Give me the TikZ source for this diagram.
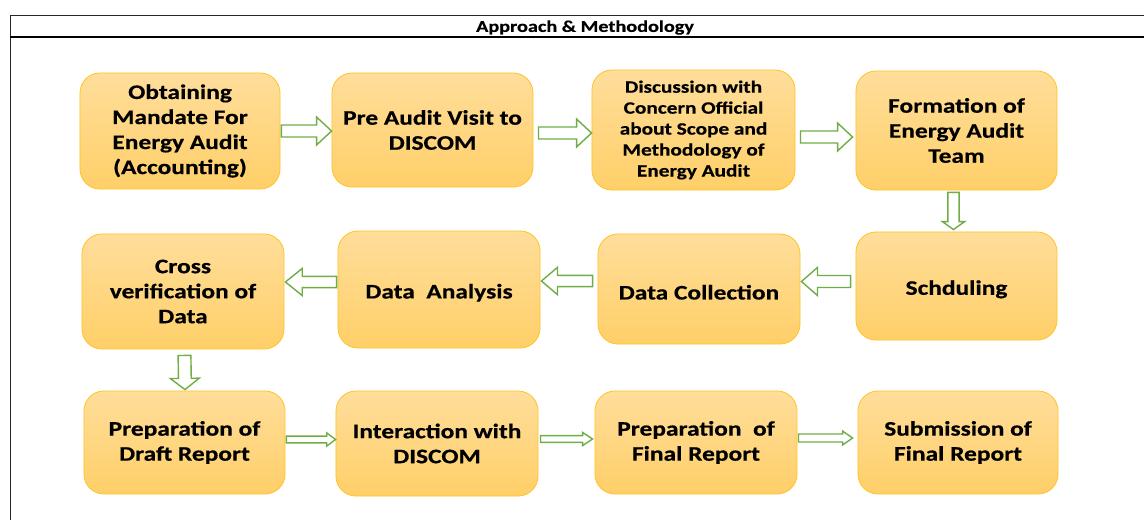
\documentclass[tikz,border=0pt]{standalone}
\usepackage{fontspec}
\setmainfont{Carlito}[FakeStretch=1.23, BoldFeatures={FakeBold=0.5}]
\usetikzlibrary{calc}

\definecolor{boxtop}{RGB}{255,222,155}
\definecolor{boxbottom}{RGB}{255,207,104}
\definecolor{boxline}{RGB}{255,196,40}
\definecolor{arrowgreen}{RGB}{112,173,71}

\tikzset{
  stepbox/.style={rectangle, rounded corners=0.5cm, draw=boxline, line width=0.6pt,
    top color=boxtop, bottom color=boxbottom, minimum width=5cm, align=center,
    font=\fontsize{14.7}{17.8}\selectfont\bfseries,
    execute at begin node={\rule{0pt}{15pt}}},
  blockarrow/.style={draw=arrowgreen, fill=white, line width=1pt, line join=miter}
}

% block arrow: start, tip, half shaft, half head, head length
\newcommand{\flowarrow}[5]{%
  \coordinate (fa-s) at #1;
  \coordinate (fa-t) at #2;
  \coordinate (fa-h) at ($(fa-t)!#5!(fa-s)$);
  \draw[blockarrow] ($(fa-s)!#3!90:(fa-t)$) -- ($(fa-h)!#3!-90:(fa-s)$) -- ($(fa-h)!#4!-90:(fa-s)$)
    -- (fa-t) -- ($(fa-h)!#4!90:(fa-s)$) -- ($(fa-h)!#3!90:(fa-s)$) -- ($(fa-s)!#3!-90:(fa-t)$) -- cycle;}

\begin{document}
\begin{tikzpicture}[x=0.025cm, y=-0.025cm]
  \useasboundingbox (0,0) rectangle (1144,520);

  % frame and header
  \draw[line width=0.6pt, black!85] (10,520) -- (10,15) -- (1144,15);
  \draw[line width=1.5pt] (10,37) -- (1144,37);
  \node[font=\fontsize{11.7}{14}\selectfont\bfseries] (title) at (585,27.5) {Approach \& Methodology};

  % first row
  \node[stepbox, minimum height=2.9cm] (mandate) at (180,131) {Obtaining\\Mandate For\\Energy Audit\\(Accounting)};
  \node[stepbox, minimum height=2.85cm, minimum width=5.025cm] (visit) at (432.5,130) {Pre Audit Visit to\\DISCOM};
  \node[stepbox, minimum height=3cm, minimum width=5.075cm, font=\fontsize{12.3}{14.9}\selectfont\bfseries] (scope) at (693.5,130)
    {Discussion with\\Concern Official\\about Scope and\\Methodology of\\Energy Audit};
  \node[stepbox, minimum height=2.975cm, minimum width=5.025cm] (team) at (956.5,130.5) {Formation of\\Energy Audit\\Team};

  % second row
  \node[stepbox, minimum height=2.7cm, minimum width=5.025cm] (sched) at (956.5,286) {Schduling};
  \node[stepbox, minimum height=2.75cm, minimum width=5.05cm] (collect) at (699,289) {Data Collection};
  \node[stepbox, minimum height=2.925cm, minimum width=5.05cm] (analysis) at (439,289.5) {Data\ \ Analysis};
  \node[stepbox, minimum height=2.875cm, minimum width=5.05cm] (verify) at (183,291.5) {Cross\\verification of\\Data};

  % third row
  \node[stepbox, minimum height=2.575cm, minimum width=5.025cm] (draft) at (184.5,442.5) {Preparation of\\Draft Report};
  \node[stepbox, minimum height=2.625cm, minimum width=5.05cm] (interact) at (437,443.5) {Interaction with\\DISCOM};
  \node[stepbox, minimum height=2.575cm, minimum width=5.05cm] (final) at (696,442.5) {Preparation\ \ of\\Final Report};
  \node[stepbox, minimum height=2.575cm] (submit) at (958,442.5) {Submission of\\Final Report};

  % arrows
  \flowarrow{($(mandate.east)+(1,0)$)}{($(visit.west)+(0,1)$)}{0.15cm}{0.35cm}{0.375cm}
  \flowarrow{($(visit.east)+(5,3)$)}{($(scope.west)+(0,3)$)}{0.15cm}{0.35cm}{0.375cm}
  \flowarrow{($(scope.east)+(5,7)$)}{($(team.west)+(-3,6.5)$)}{0.15cm}{0.35cm}{0.375cm}
  \flowarrow{($(team.south)+(-3,2)$)}{($(sched.north)+(-3,-2)$)}{0.14cm}{0.28cm}{0.2cm}

  \flowarrow{($(sched.west)+(-5,-4.5)$)}{($(collect.east)+(1,-7.5)$)}{0.15cm}{0.35cm}{0.4cm}
  \flowarrow{($(collect.west)+(-5,-8)$)}{($(analysis.east)+(1,-8.5)$)}{0.14cm}{0.34cm}{0.4cm}
  \flowarrow{($(analysis.west)+(-1,-7.5)$)}{($(verify.east)+(1,-9.5)$)}{0.14cm}{0.34cm}{0.42cm}
  \flowarrow{($(verify.south)+(1.5,6)$)}{($(draft.north)+(0.5,-1)$)}{0.16cm}{0.36cm}{0.28cm}

  \flowarrow{($(draft.east)+(1,-3)$)}{($(interact.west)+(0,-4)$)}{0.085cm}{0.165cm}{0.22cm}
  \flowarrow{($(interact.east)+(2,-4.5)$)}{($(final.west)+(-2,-3.5)$)}{0.085cm}{0.165cm}{0.25cm}
  \flowarrow{($(final.east)+(1,-4.5)$)}{($(submit.west)+(-5,-4.5)$)}{0.1cm}{0.175cm}{0.25cm}
\end{tikzpicture}
\end{document}
